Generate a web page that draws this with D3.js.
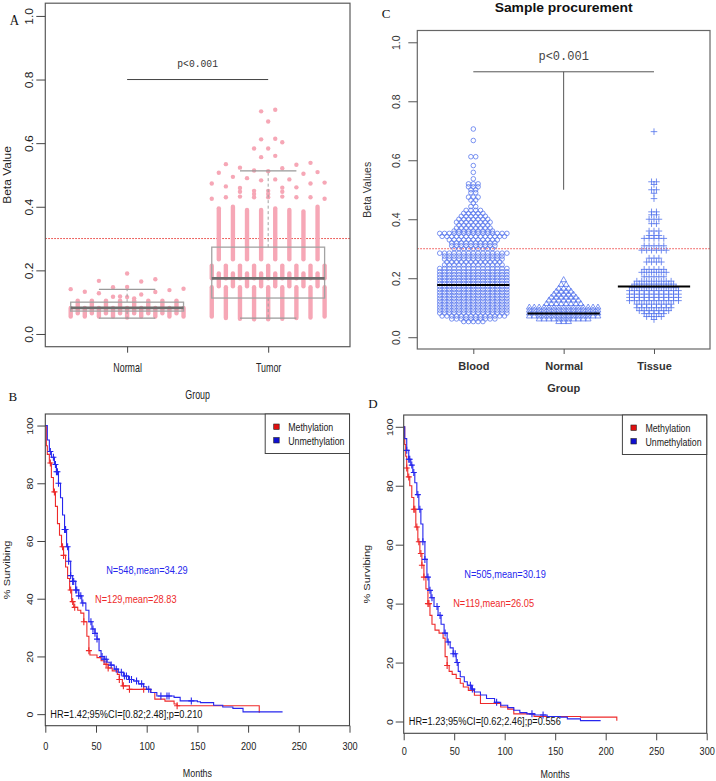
<!DOCTYPE html>
<html><head><meta charset="utf-8">
<script src="https://cdn.jsdelivr.net/npm/d3@7"></script>
<style>body{margin:0;background:#fff}svg{display:block}</style>
</head><body><svg id="c" width="716" height="781"></svg>
<script>
// ---------------- DATA ----------------
// Panel A
const groupsA = ["Normal", "Tumor"];
const yTicksA = [0, 0.2, 0.4, 0.6, 0.8, 1.0];
// [lower whisker, q1, median, q3, upper whisker]
const boxStatsA = [[0.05, 0.072, 0.082, 0.100, 0.140], [0.05, 0.113, 0.175, 0.273, 0.513]];
// dense runs of points: [column, low, high]
const normalDenseA = [[0,0.055,0.082],[1,0.065,0.105],[2,0.055,0.082],[3,0.065,0.105],[4,0.055,0.082],[5,0.065,0.105],[6,0.055,0.082],[7,0.065,0.105],[8,0.052,0.082],[9,0.065,0.105],[10,0.055,0.082],[11,0.065,0.105],[12,0.055,0.082],[13,0.065,0.105],[14,0.055,0.082],[15,0.065,0.105],[16,0.055,0.082]];
const normalDotsA = [[0,0.141],[2,0.133],[4,0.167],[4,0.128],[6,0.147],[6,0.117],[8,0.19],[8,0.148],[8,0.116],[7,0.118],[9,0.112],[10,0.165],[10,0.124],[12,0.172],[12,0.132],[14,0.138],[16,0.142]];
const tumorDenseA = [
 [0,0.055,0.147],[0,0.175,0.215],[1,0.235,0.395],[1,0.15,0.19],
 [2,0.05,0.147],[2,0.175,0.215],[3,0.235,0.40],[3,0.15,0.19],
 [4,0.048,0.147],[4,0.175,0.215],[5,0.235,0.39],[5,0.15,0.19],
 [6,0.046,0.147],[6,0.175,0.215],[7,0.235,0.39],[7,0.15,0.19],
 [8,0.046,0.147],[8,0.175,0.215],[9,0.235,0.395],[9,0.15,0.19],
 [10,0.048,0.147],[10,0.175,0.215],[11,0.235,0.39],[11,0.15,0.19],
 [12,0.05,0.147],[12,0.175,0.215],[13,0.235,0.385],[13,0.15,0.19],
 [14,0.052,0.147],[14,0.175,0.215],[15,0.235,0.40],[15,0.15,0.19],
 [16,0.055,0.147],[16,0.175,0.215]];
const tumorDotsA = [[7,0.700],[9,0.705],[8,0.668],[7,0.612],[9,0.614],[10,0.603],[6,0.583],[8,0.583],[7,0.556],[9,0.560],[2,0.534],[14,0.538],[12,0.532],[4,0.523],[10,0.521],[6,0.514],[8,0.512],[1,0.507],[13,0.504],[15,0.509],[3,0.494],[5,0.49],[7,0.483],[9,0.486],[11,0.486],[0,0.473],[2,0.464],[10,0.46],[12,0.461],[14,0.473],[16,0.476],[4,0.459],[6,0.45],[6,0.44],[6,0.43],[8,0.45],[8,0.44],[8,0.43],[4,0.447],[4,0.432],[10,0.447],[10,0.432],[0,0.425],[16,0.425],[12,0.43],[14,0.43],[2,0.43]];
const cutoffBeta = 0.3;
const pBracketA = 0.8;
const pText = "p<0.001";

// Panel C
const titleC = "Sample procurement";
const groupsC = ["Blood", "Normal", "Tissue"];
const yTicksC = [0, 0.2, 0.4, 0.6, 0.8, 1.0];
// beeswarm rows: [value, number of samples]
const bloodRowsC = [[0.706,1],[0.667,1],[0.612,2],[0.582,1],[0.559,1],[0.537,1],[0.52,3],[0.51,3],[0.50,2],[0.49,2],[0.475,3],[0.465,2],[0.455,1],[0.443,2],[0.43,4],[0.42,5],[0.41,6],[0.40,7],[0.39,8],[0.38,7],[0.37,8],[0.36,9],[0.352,15],[0.342,14],[0.33,11],[0.32,10],[0.31,10],[0.30,9],[0.285,15],[0.275,13],[0.265,13],[0.255,12],[0.245,13],[0.233,15],[0.222,15],[0.212,15],[0.202,15],[0.192,15],[0.182,15],[0.172,15],[0.162,15],[0.152,15],[0.142,15],[0.132,15],[0.122,15],[0.112,15],[0.102,15],[0.092,15],[0.082,15],[0.072,14],[0.062,10],[0.053,5]];
const normalRowsC = [[0.194,1],[0.178,2],[0.165,3],[0.155,4],[0.145,5],[0.135,6],[0.125,7],[0.113,8],[0.101,15],[0.091,15],[0.081,15],[0.071,15],[0.061,11],[0.052,3]];
const tissueRowsC = [[0.697,1],[0.527,2],[0.518,1],[0.50,2],[0.488,1],[0.47,1],[0.425,2],[0.415,2],[0.40,3],[0.385,2],[0.36,3],[0.345,3],[0.335,5],[0.31,5],[0.295,6],[0.268,3],[0.255,4],[0.23,5],[0.22,6],[0.205,5],[0.19,8],[0.18,9],[0.168,10],[0.158,11],[0.146,11],[0.135,11],[0.124,11],[0.112,8],[0.10,8],[0.09,7],[0.08,5],[0.07,4],[0.06,1]];
const mediansC = [0.177, 0.080, 0.172];
const pBracketC = [0.9, 0.5];

// Panels B and D (Kaplan-Meier): [months, % surviving]
const xTicksKM = [0, 50, 100, 150, 200, 250, 300];
const yTicksKM = [0, 20, 40, 60, 80, 100];
const legendKM = ["Methylation", "Unmethylation"];
const kmB_unmeth = [[0,100],[2,95],[4,91],[6,89],[9,86.5],[11,84],[13,80],[15,75],[17,69],[19,64],[21,58],[23,53],[25,48],[27,46],[30,43],[33,41],[36,38.5],[40,36],[43,32],[46,29.5],[49,28],[51,26],[53,22],[55,20],[58,19],[61,18],[64,17],[68,15.6],[72,14.5],[77,13.2],[82,12],[87,11.5],[92,10.5],[97,9.5],[100,8.6],[104,7.5],[110,6.3],[127,5.8],[133,4.6],[150,4.3],[153,4.0],[166,3.1],[175,2.5],[185,2.0],[195,0.8],[234,0.8]];
const kmB_meth = [[0,100],[1,93],[2,90],[4,87],[6,82],[8,77],[10,72],[12,66],[14,62],[16,58],[18,55],[20,51],[22,47],[24,43],[26,39],[28,37],[32,36],[35,35],[38,32],[41,27],[43,22],[44,20.5],[51,19.6],[55,18.5],[58,17.3],[62,16],[66,15],[71,13.8],[73,12],[76,9.8],[83,8.6],[104,7.5],[108,5.2],[118,4.5],[127,3.5],[130,2.9],[211,0.5]];
const censB_unmeth = [5,8,10,11,12,13,19,20,22,23,25,27,28,30,31,33,35,37,45,47,49,51,56,58,60,65,70,75,78,80,83,85,90,95,102,114,120,122,144];
const censB_meth = [5,9,17,18,25,27,29,38,43,60,62,73,77,83,97,130];
const textB = ["N=548,mean=34.29", "N=129,mean=28.83", "HR=1.42;95%CI=[0.82;2.48];p=0.210"];

const kmD_unmeth = [[0,100],[1,96],[3,92],[5,89],[7,87],[9,84.5],[11,81],[13,77],[15,72],[17,67],[19,61],[21,55],[23,49],[25,44.5],[27,42],[30,39],[34,36],[37,33],[40,30],[43,27],[46,25],[49,23],[52,20],[54,17],[56,15.2],[60,13.5],[63,12.3],[67,11],[70,10],[76,9],[82,7.8],[90,6.5],[96,5.5],[103,4.7],[109,3.8],[115,3],[122,2.6],[130,2.2],[142,1.7],[155,1.5],[162,0.9],[175,0.3],[195,0.3]];
const kmD_meth = [[0,100],[1,94],[2,90],[3,86],[4,83],[6,80],[8,76],[10,72],[12,66],[14,61],[16,57],[18,53],[20,49],[22,45],[24,40],[26,36],[28,33],[31,31],[35,30],[39,28.3],[41,22],[43,19],[45,17],[48,16],[52,14.6],[56,13],[59,11.7],[64,10.5],[70,8.9],[76,6.1],[96,4.9],[103,4.2],[109,2.6],[129,1.7],[175,1.5],[211,0.3]];
const censD_unmeth = [3,5,6,8,10,14,16,19,21,24,26,28,33,36,41,44,49,51,53,66,68,92,127,138];
const censD_meth = [3,5,10,11,13,15,17,18,20,24,25,43];
const textD = ["N=505,mean=30.19", "N=119,mean=26.05", "HR=1.23;95%CI=[0.62;2.46];p=0.556"];

// ---------------- DRAWING ----------------
const SANS = '"Liberation Sans", Arial, Helvetica, sans-serif';
const SERIF = '"Liberation Serif", "Times New Roman", serif';
const MONO = '"Liberation Mono", "Courier New", monospace';
const svg = d3.select("#c");

function label(g, str, x, y, o = {}) {
  const t = g.append("text")
    .attr("transform", `translate(${x},${y})` + (o.rot ? ` rotate(${o.rot})` : "") + ` scale(${o.sx || 1},${o.sy || 1})`)
    .attr("text-anchor", o.anchor || "start")
    .attr("dy", o.dy || null)
    .style("font-family", o.family || SANS)
    .style("font-size", (o.size || 11) + "px")
    .style("font-weight", o.weight || "normal")
    .attr("fill", o.fill || "#222")
    .text(str);
  if (o.len) t.attr("textLength", o.len).attr("lengthAdjust", "spacingAndGlyphs");
  return t;
}
function styleAxis(ax, col) {
  ax.select(".domain").remove();
  ax.selectAll(".tick line").attr("stroke", col || "#444");
  ax.selectAll(".tick text").attr("fill", "#222").style("font-family", SANS);
}

// ===== Panel A =====
(function () {
  const B = {l: 45.3, r: 350, t: 3.2, b: 346.7};
  const x = d3.scaleLinear().domain([0.42, 2.58]).range([B.l, B.r]);
  const y = d3.scaleLinear().domain([-0.04, 1.04]).range([B.b, B.t]);
  const g = svg.append("g");
  const pink = "#F6A7B6";
  const cx = (gi, c) => x(gi + 1 + (c - 8) * 0.05);

  // cut-off line
  g.append("line").attr("x1", B.l).attr("x2", B.r).attr("y1", y(cutoffBeta)).attr("y2", y(cutoffBeta))
    .attr("stroke", "#e8322e").attr("stroke-width", 1).attr("stroke-dasharray", "1.5,1.5");

  [[normalDenseA, normalDotsA], [tumorDenseA, tumorDotsA]].forEach(([dense, dots], gi) => {
    g.selectAll(null).data(dense).enter().append("line")
      .attr("x1", d => cx(gi, d[0])).attr("x2", d => cx(gi, d[0]))
      .attr("y1", d => y(d[1])).attr("y2", d => y(d[2]))
      .attr("stroke", pink).attr("stroke-width", 4.4).attr("stroke-linecap", "round");
    g.selectAll(null).data(dots).enter().append("circle")
      .attr("cx", d => cx(gi, d[0])).attr("cy", d => y(d[1])).attr("r", 2.2).attr("fill", pink);
  });

  // boxplots
  boxStatsA.forEach((s, i) => {
    const c = i + 1, bx = g.append("g").attr("fill", "none");
    bx.append("line").attr("x1", x(c)).attr("x2", x(c)).attr("y1", y(s[3])).attr("y2", y(s[4])).attr("stroke", "#a0a0a0").attr("stroke-dasharray", "3,2.5");
    bx.append("line").attr("x1", x(c)).attr("x2", x(c)).attr("y1", y(s[1])).attr("y2", y(s[0])).attr("stroke", "#a0a0a0").attr("stroke-dasharray", "3,2.5");
    [s[0], s[4]].forEach(v => bx.append("line").attr("x1", x(c - 0.2)).attr("x2", x(c + 0.2)).attr("y1", y(v)).attr("y2", y(v)).attr("stroke", "#999").attr("stroke-width", 1.2));
    bx.append("rect").attr("x", x(c - 0.4)).attr("width", x(c + 0.4) - x(c - 0.4)).attr("y", y(s[3])).attr("height", y(s[1]) - y(s[3])).attr("stroke", "#a3a3a3").attr("stroke-width", 1.3);
    bx.append("line").attr("x1", x(c - 0.4)).attr("x2", x(c + 0.4)).attr("y1", y(s[2])).attr("y2", y(s[2])).attr("stroke", "#6e6e6e").attr("stroke-width", 2.8);
  });

  // p bracket
  g.append("line").attr("x1", x(1)).attr("x2", x(2)).attr("y1", y(pBracketA)).attr("y2", y(pBracketA)).attr("stroke", "#444").attr("stroke-width", 1);
  label(g, pText, (x(1) + x(2)) / 2, y(pBracketA) - 13, {anchor: "middle", family: MONO, size: 11, sx: 0.88, fill: "#333"});

  // frame
  g.append("rect").attr("x", B.l).attr("y", B.t).attr("width", B.r - B.l).attr("height", B.b - B.t).attr("fill", "none").attr("stroke", "#5a5a5a").attr("stroke-width", 1.2);

  const ay = g.append("g").attr("transform", `translate(${B.l},0)`)
    .call(d3.axisLeft(y).tickValues(yTicksA).tickFormat(d3.format(".1f")).tickSize(9).tickSizeOuter(0));
  styleAxis(ay);
  ay.selectAll(".tick text").attr("x", null).attr("dy", null).attr("text-anchor", "middle")
    .attr("transform", "translate(-12,0) rotate(-90) scale(1,0.85)").style("font-size", "12px");

  const ax = g.append("g").attr("transform", `translate(0,${B.b})`)
    .call(d3.axisBottom(x).tickValues([1, 2]).tickFormat(d => groupsA[d - 1]).tickSize(6).tickSizeOuter(0));
  styleAxis(ax);
  ax.selectAll(".tick text").attr("y", null).attr("dy", null).attr("transform", "translate(0,25) scale(0.74,1)").style("font-size", "12px");

  label(g, "Beta Value", 10.7, (B.t + B.b) / 2, {rot: -90, anchor: "middle", size: 12, sy: 0.85});
  label(g, "Group", (B.l + B.r) / 2, 399, {anchor: "middle", size: 12, sx: 0.74});
  label(g, "A", 14.5, 25, {anchor: "middle", family: SERIF, size: 14, sx: 0.92, fill: "#111"});
})();

// ===== Panel C =====
(function () {
  const B = {l: 417.3, r: 710, t: 30.5, b: 349};
  const x = d3.scaleLinear().domain([0.38, 3.62]).range([B.l, B.r]);
  const y = d3.scaleLinear().domain([-0.04, 1.04]).range([B.b, B.t]);
  const g = svg.append("g");
  const blue = "#5272EC";

  g.append("line").attr("x1", B.l).attr("x2", B.r).attr("y1", y(cutoffBeta)).attr("y2", y(cutoffBeta))
    .attr("stroke", "#ee4444").attr("stroke-width", 1).attr("stroke-dasharray", "1.5,1.5");

  function swarm(rows, gi, sp) {
    const out = [];
    rows.forEach(([v, n]) => { for (let j = 0; j < n; j++) out.push({x: x(gi + 1) + (j - (n - 1) / 2) * sp, y: y(v)}); });
    return out;
  }
  g.selectAll(null).data(swarm(bloodRowsC, 0, 4.8)).enter().append("circle")
    .attr("cx", d => d.x).attr("cy", d => d.y).attr("r", 2.3).attr("fill", "none").attr("stroke", blue).attr("stroke-width", 0.75);
  const tri = d3.symbol(d3.symbolTriangle).size(15);
  g.selectAll(null).data(swarm(normalRowsC, 1, 4.9)).enter().append("path")
    .attr("d", tri).attr("transform", d => `translate(${d.x},${d.y})`).attr("fill", "none").attr("stroke", blue).attr("stroke-width", 0.75);
  g.selectAll(null).data(swarm(tissueRowsC, 2, 4.9)).enter().append("path")
    .attr("d", "M-3.3,0H3.3M0,-3.3V3.3").attr("transform", d => `translate(${d.x},${d.y})`).attr("fill", "none").attr("stroke", blue).attr("stroke-width", 0.8);

  mediansC.forEach((m, i) => g.append("line").attr("x1", x(i + 1 - 0.4)).attr("x2", x(i + 1 + 0.4)).attr("y1", y(m)).attr("y2", y(m)).attr("stroke", "#000").attr("stroke-width", 2));

  g.append("line").attr("x1", x(1)).attr("x2", x(3)).attr("y1", y(pBracketC[0])).attr("y2", y(pBracketC[0])).attr("stroke", "#555");
  g.append("line").attr("x1", x(2)).attr("x2", x(2)).attr("y1", y(pBracketC[0])).attr("y2", y(pBracketC[1])).attr("stroke", "#555");
  label(g, pText, x(2), y(pBracketC[0]) - 11.5, {anchor: "middle", family: MONO, size: 12, fill: "#444"});

  g.append("rect").attr("x", B.l).attr("y", B.t).attr("width", B.r - B.l).attr("height", B.b - B.t).attr("fill", "none").attr("stroke", "#666").attr("stroke-width", 1.2);

  const ay = g.append("g").attr("transform", `translate(${B.l},0)`)
    .call(d3.axisLeft(y).tickValues(yTicksC).tickFormat(d3.format(".1f")).tickSize(9).tickSizeOuter(0));
  styleAxis(ay, "#555");
  ay.selectAll(".tick text").attr("x", null).attr("dy", null).attr("text-anchor", "middle")
    .attr("transform", "translate(-17.3,0) rotate(-90)").style("font-size", "10.5px").attr("fill", "#333");
  const ax = g.append("g").attr("transform", `translate(0,${B.b})`)
    .call(d3.axisBottom(x).tickValues([1, 2, 3]).tickFormat(d => groupsC[d - 1]).tickSize(5).tickSizeOuter(0));
  styleAxis(ax, "#555");
  ax.selectAll(".tick text").attr("y", null).attr("dy", null).attr("transform", "translate(0,21)")
    .style("font-size", "11px").style("font-weight", "bold").attr("fill", "#333");

  label(g, "Beta Values", 370.5, (B.t + B.b) / 2, {rot: -90, anchor: "middle", size: 10.5, fill: "#333"});
  label(g, "Group", x(2), 392, {anchor: "middle", size: 11, weight: "bold", fill: "#333"});
  label(g, titleC, x(2), 11.7, {anchor: "middle", size: 12, weight: "bold", len: 138, fill: "#111"});
  label(g, "C", 386, 17.5, {anchor: "middle", family: SERIF, size: 13, fill: "#111"});
})();

// ===== KM panels =====
function stepVal(data, t) { let v = data[0][1]; for (const [tt, s] of data) if (tt <= t) v = s; return v; }
function drawKM(cfg) {
  const B = cfg.box;
  const x = d3.scaleLinear().domain([0, 300]).range([B.l, B.r]);
  const y = d3.scaleLinear().domain([-4, 104]).range([B.b, B.t]);
  const g = svg.append("g");
  const RED = "#EE2A2A", BLUE = "#2626EE";
  const line = d3.line().x(d => x(d[0])).y(d => y(d[1])).curve(d3.curveStepAfter);
  [[cfg.meth, cfg.censMeth, RED], [cfg.unmeth, cfg.censUnmeth, BLUE]].forEach(([data, cens, col]) => {
    g.append("path").attr("d", line(data)).attr("fill", "none").attr("stroke", col).attr("stroke-width", 1.1);
    g.selectAll(null).data(cens).enter().append("path")
      .attr("d", "M-3,0H3M0,-3.5V3.5").attr("transform", t => `translate(${x(t)},${y(stepVal(data, t))})`)
      .attr("stroke", col).attr("stroke-width", 1.1);
  });
  g.append("rect").attr("x", B.l).attr("y", B.t).attr("width", B.r - B.l).attr("height", B.b - B.t).attr("fill", "none").attr("stroke", "#444").attr("stroke-width", 1.1);

  const ay = g.append("g").attr("transform", `translate(${B.l},0)`)
    .call(d3.axisLeft(y).tickValues(yTicksKM).tickSize(8).tickSizeOuter(0));
  styleAxis(ay);
  ay.selectAll(".tick text").attr("x", null).attr("dy", null).attr("text-anchor", "middle")
    .attr("transform", `translate(${cfg.yLabOff},0) rotate(-90) scale(1,0.9)`).style("font-size", "10.5px");
  const ax = g.append("g").attr("transform", `translate(0,${B.b})`)
    .call(d3.axisBottom(x).tickValues(xTicksKM).tickSize(7).tickSizeOuter(0));
  styleAxis(ax);
  ax.selectAll(".tick text").attr("y", null).attr("dy", null).attr("transform", `translate(0,${cfg.xLabOff}) scale(0.83,1)`).style("font-size", "11px");

  // legend
  const lg = g.append("g").attr("transform", `translate(${B.r - 84.3},${B.t})`);
  lg.append("rect").attr("width", 84.3).attr("height", 39.5).attr("fill", "#fff").attr("stroke", "#444").attr("stroke-width", 1);
  [["#E01010", legendKM[0], 13], ["#1010D0", legendKM[1], 26.5]].forEach(([c, s, yy]) => {
    lg.append("rect").attr("x", 8.5).attr("y", yy - 3).attr("width", 5.5).attr("height", 5.5).attr("fill", c).attr("stroke", "#222").attr("stroke-width", 0.6);
    label(lg, s, 23, yy + 4, {size: 11, sx: 0.8, fill: "#222"});
  });

  const tx = cfg.text;
  label(g, tx[0], x(60), y(50), {size: 11, sx: 0.84, dy: "0.35em", fill: BLUE});
  label(g, tx[1], x(49), y(40), {size: 11, sx: 0.84, dy: "0.35em", fill: RED});
  label(g, tx[2], x(5), y(0), {size: 11, sx: 0.84, dy: "0.35em", fill: "#111"});

  label(g, "Months", (B.l + B.r) / 2, cfg.monthsY, {anchor: "middle", size: 11, sx: 0.81});
  label(g, "% Survibing", cfg.survX, (B.t + B.b) / 2, {rot: -90, anchor: "middle", size: 11, sy: 0.9});
  label(g, cfg.letter, cfg.letterPos[0], cfg.letterPos[1], {anchor: "middle", family: SERIF, size: 13, fill: "#111"});
}

drawKM({box: {l: 45.3, r: 349.5, t: 414, b: 725.7}, meth: kmB_meth, unmeth: kmB_unmeth, censMeth: censB_meth, censUnmeth: censB_unmeth,
  text: textB, yLabOff: -12, xLabOff: 24.3, monthsY: 776.7, survX: 10.3, letter: "B", letterPos: [12.8, 400.7]});
drawKM({box: {l: 403.7, r: 706.7, t: 415, b: 733.3}, meth: kmD_meth, unmeth: kmD_unmeth, censMeth: censD_meth, censUnmeth: censD_unmeth,
  text: textD, yLabOff: -10.5, xLabOff: 21.7, monthsY: 778.3, survX: 369.5, letter: "D", letterPos: [373, 408.3]});
</script></body></html>
